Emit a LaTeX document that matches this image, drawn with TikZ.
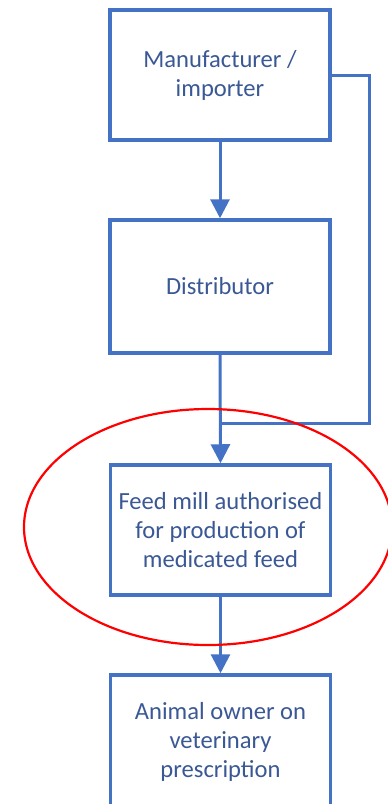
\documentclass[tikz,border=0pt]{standalone}
\usepackage{fontspec}
\setmainfont{Carlito}
\usetikzlibrary{arrows.meta}
\definecolor{boxblue}{HTML}{4472C4}
\definecolor{txtblue}{HTML}{3A5894}
\definecolor{hlred}{HTML}{FF0000}
\tikzset{
  flowbox/.style={draw=boxblue, line width=3.5pt, rectangle, minimum width=220pt,
    inner sep=0pt, align=center, text=txtblue, font=\fontsize{24.6}{29}\selectfont},
  conn/.style={draw=boxblue, line width=3pt},
  arr/.style={conn, -{Triangle[width=19pt,length=19pt]}, shorten >=0pt}
}
\begin{document}
\begin{tikzpicture}[x=1pt,y=-1pt]
\useasboundingbox (0,0) rectangle (388,804);
\clip (0,0) rectangle (388,804);
\node[flowbox, minimum height=130pt] (manu) at (220,75) {Manufacturer /\\importer};
\node[flowbox, minimum height=133pt] (dist) at (220,286.5) {Distributor};
\node[flowbox, minimum height=130pt] (mill) at (220.5,530) {Feed mill authorised\\for production of\\medicated feed};
\node[flowbox, minimum height=134pt] (owner) at (220.5,742) {Animal owner on\\veterinary\\prescription};
\coordinate (join) at (220.5,423);
\coordinate (rtop) at (369,75);
\coordinate (rbot) at (369,423);
\draw[arr] (manu.south) -- (dist.north);
\draw[arr] (dist.south) -- (mill.north);
\draw[conn] (manu.east) -- (rtop) -- (rbot) -- (join);
\draw[arr] (mill.south) -- (owner.north);
\draw[hlred, line width=2.2pt] (208,527) ellipse [x radius=184, y radius=118];
\end{tikzpicture}
\end{document}
